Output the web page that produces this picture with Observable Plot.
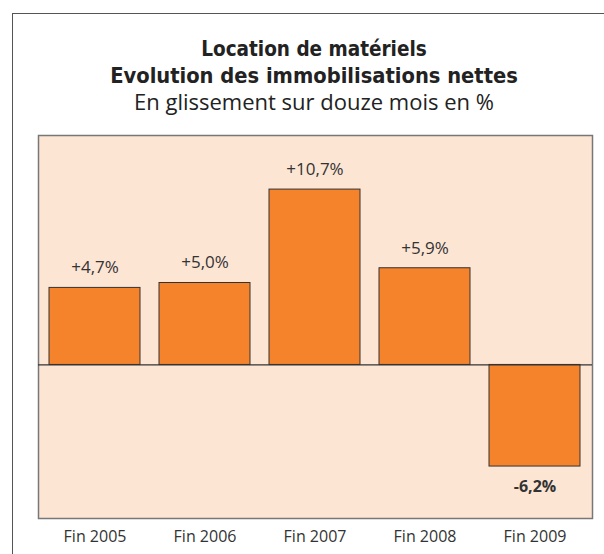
<!DOCTYPE html>
<html>
<head>
<meta charset="utf-8">
<script src="https://cdn.jsdelivr.net/npm/d3@7"></script>
<script src="https://cdn.jsdelivr.net/npm/@observablehq/plot@0.6"></script>
<style>
  html, body { margin: 0; padding: 0; background: #fff; }
  #wrap { position: relative; width: 604px; height: 554px; overflow: hidden; background: #fff; }
  #frame { position: absolute; left: 12px; top: 13px; width: 700px; height: 700px;
           border-left: 1.5px solid #555; border-top: 1.5px solid #555; }
  .t { position: absolute; left: 12px; width: 604px; text-align: center; color: #222; white-space: nowrap; }
  #t1, #t2 { font-family: "Liberation Sans Narrow", "DejaVu Sans Condensed", sans-serif; font-weight: bold; }
  #t1 { top: 37px; font-size: 20.5px; }
  #t2 { top: 63px; font-size: 21.7px; }
  #t3 { top: 86px; font-family: "Open Sans", sans-serif; font-size: 22px; color: #222; }
  #chart { position: absolute; left: 0; top: 0; }
</style>
</head>
<body>
<div id="wrap">
  <div id="frame"></div>
  <div class="t" id="t1">Location de matériels</div>
  <div class="t" id="t2">Evolution des immobilisations nettes</div>
  <div class="t" id="t3">En glissement sur douze mois en %</div>
  <div id="chart"></div>
</div>
<script>
const categories = ["Fin 2005", "Fin 2006", "Fin 2007", "Fin 2008", "Fin 2009"];
const values = [4.7, 5.0, 10.7, 5.9, -6.2];

const data = categories.map((c, i) => ({ cat: c, v: values[i] }));
const fmt = v => (v > 0 ? "+" : "") + v.toFixed(1).replace(".", ",") + "%";

const plot = Plot.plot({
  width: 604,
  height: 554,
  marginLeft: 38,
  marginRight: 12,
  marginTop: 135,
  marginBottom: 36,
  style: { fontFamily: "'Open Sans', sans-serif", background: "transparent", color: "#333" },
  x: { domain: categories, paddingInner: 0.17, paddingOuter: 0.083, label: null, axis: null },
  y: { domain: [-9.37, 14], axis: null },
  marks: [
    Plot.frame({ fill: "#fde5d4", stroke: "#777", strokeWidth: 1.5 }),
    Plot.barY(data, { x: "cat", y: "v", fill: "#f5832c", stroke: "#333", strokeWidth: 1 }),
    Plot.ruleY([0], { stroke: "#333", strokeWidth: 1.2 }),
    Plot.text(data.filter(d => d.v >= 0), { x: "cat", y: "v", text: d => fmt(d.v), dy: -20, fontSize: 17, fill: "#333" }),
    Plot.text(data.filter(d => d.v < 0), { x: "cat", y: "v", text: d => fmt(d.v), dy: 20, fontSize: 16, fontWeight: "bold", fill: "#333" }),
    Plot.axisX({ tickSize: 0, tickPadding: 12, fontSize: 16, fill: "#333", label: null })
  ]
});
document.getElementById("chart").appendChild(plot);
</script>
</body>
</html>
